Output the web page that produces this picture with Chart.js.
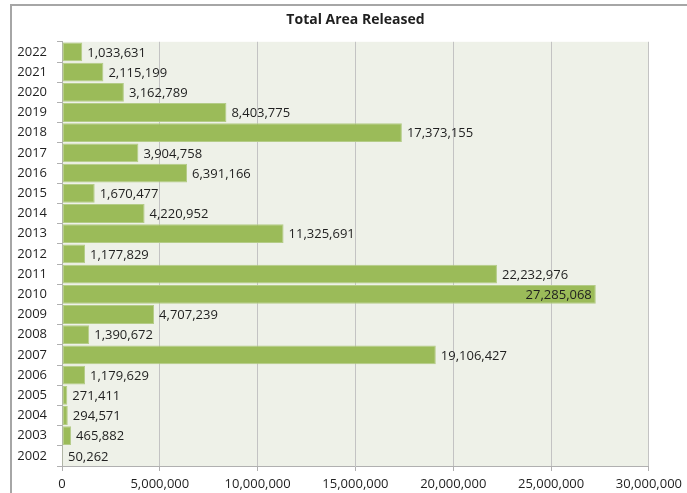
<!DOCTYPE html>
<html>
<head>
<meta charset="utf-8">
<script src="https://cdn.jsdelivr.net/npm/chart.js@4.4.1/dist/chart.umd.min.js"></script>
<style>
    body { margin: 0; background: #fff; overflow: hidden; }
    #frame {
        position: absolute; left: 10px; top: 4px; width: 700px; height: 520px;
        border-left: 2px solid #a6a6a6; border-top: 2px solid #a6a6a6;
    }
    #chart { position: absolute; left: 0; top: 0; }
</style>
</head>
<body>
<div id="frame"></div>
<canvas id="chart" width="687" height="493"></canvas>
<script>
// Data
const years = ['2022', '2021', '2020', '2019', '2018', '2017', '2016', '2015', '2014', '2013', '2012',
    '2011', '2010', '2009', '2008', '2007', '2006', '2005', '2004', '2003', '2002'];
const areaReleased = [1033631, 2115199, 3162789, 8403775, 17373155, 3904758, 6391166, 1670477, 4220952, 11325691, 1177829,
    22232976, 27285068, 4707239, 1390672, 19106427, 1179629, 271411, 294571, 465882, 50262];
const xTicks = [0, 5000000, 10000000, 15000000, 20000000, 25000000, 30000000];

const FONT = '"Open Sans", "Noto Sans", sans-serif';
const TEXT = '#1f1f1f';

// Value labels at the bar ends (inside when there is no room)
const barLabels = {
    id: 'barLabels',
    afterDatasetsDraw(chart) {
        const ctx = chart.ctx;
        const area = chart.chartArea;
        const meta = chart.getDatasetMeta(0);
        ctx.save();
        ctx.font = '13px ' + FONT;
        ctx.fillStyle = TEXT;
        ctx.textBaseline = 'middle';
        meta.data.forEach((bar, i) => {
            const text = areaReleased[i].toLocaleString('en-US');
            const w = ctx.measureText(text).width;
            if (bar.x + 5 + w <= area.right) {
                ctx.textAlign = 'left';
                ctx.fillText(text, bar.x + 5, bar.y + 1);
            } else {
                ctx.textAlign = 'right';
                ctx.fillText(text, bar.x - 4, bar.y + 1);
            }
        });
        ctx.restore();
    }
};

// Plot area background
const plotBackground = {
    id: 'plotBackground',
    beforeDraw(chart) {
        const a = chart.chartArea;
        chart.ctx.save();
        chart.ctx.fillStyle = '#eef1e8';
        chart.ctx.fillRect(a.left, a.top, a.right - a.left, a.bottom - a.top);
        chart.ctx.restore();
    }
};

new Chart(document.getElementById('chart'), {
    type: 'bar',
    data: {
        labels: years,
        datasets: [{
            data: areaReleased,
            backgroundColor: '#9bbb59',
            borderColor: '#b4cc87',
            borderWidth: 1,
            borderSkipped: false,
            categoryPercentage: 1.0,
            barPercentage: 0.93
        }]
    },
    options: {
        indexAxis: 'y',
        responsive: false,
        animation: false,
        devicePixelRatio: 1,
        layout: { padding: { left: 0, right: 37, top: 0, bottom: 0 } },
        plugins: {
            legend: { display: false },
            tooltip: { enabled: false },
            title: {
                display: true,
                text: 'Total Area Released',
                fullSize: false,
                color: TEXT,
                font: { family: FONT, size: 14, weight: 'bold' },
                padding: { top: 12, bottom: 13 }
            }
        },
        scales: {
            x: {
                min: 0,
                max: 30000000,
                afterFit(scale) { scale.height = 27; },
                afterBuildTicks(scale) { scale.ticks = xTicks.map(v => ({ value: v })); },
                grid: { color: '#c3c3c3', tickLength: 5, tickColor: '#b0b0b0' },
                border: { color: '#b0b0b0' },
                ticks: {
                    color: TEXT,
                    padding: 5,
                    maxRotation: 0,
                    font: { family: FONT, size: 13 },
                    callback: value => value.toLocaleString('en-US')
                }
            },
            y: {
                afterFit(scale) { scale.width = 62; },
                grid: { drawOnChartArea: false, tickLength: 5, color: '#b0b0b0' },
                border: { color: '#b0b0b0' },
                ticks: {
                    color: TEXT,
                    padding: 10,
                    font: { family: FONT, size: 13 }
                }
            }
        }
    },
    plugins: [plotBackground, barLabels]
});
</script>
</body>
</html>
